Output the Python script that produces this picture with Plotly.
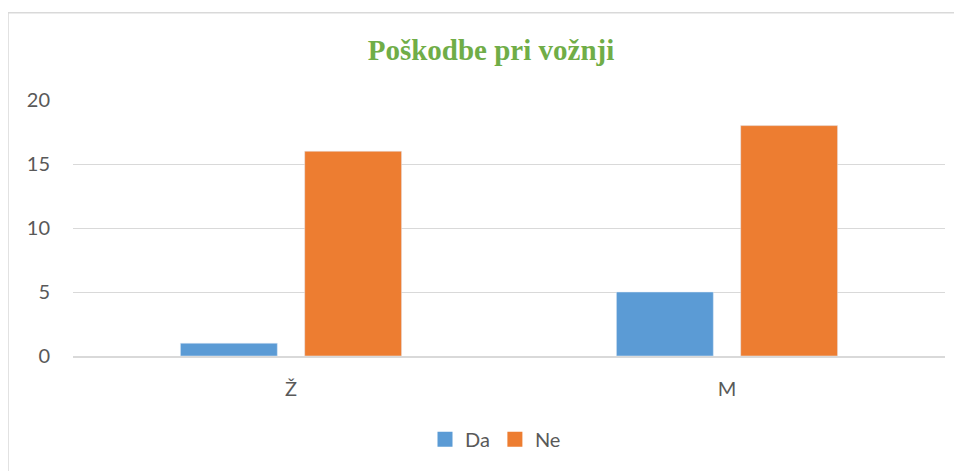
import plotly.graph_objects as go

# Data
categories = ['Ž', 'M']
da_values = [1, 5]
ne_values = [16, 18]
y_ticks = [0, 5, 10, 15, 20]
series_colors = {'Da': '#5B9BD5', 'Ne': '#ED7D31'}

fig = go.Figure()

fig.add_trace(go.Bar(x=categories, y=da_values, name='Da',
                     marker_color=series_colors['Da'], showlegend=False))
fig.add_trace(go.Bar(x=categories, y=ne_values, name='Ne',
                     marker_color=series_colors['Ne'], showlegend=False))

# legend entries with square markers (bigger than the default bar swatch)
for name, color in series_colors.items():
    fig.add_trace(go.Scatter(
        x=[None], y=[None], mode='markers', name=name,
        marker=dict(symbol='square', size=15, color=color),
    ))

fig.update_layout(
    width=954,
    height=463,
    barmode='group',
    bargap=0.43,
    bargroupgap=0.22,
    plot_bgcolor='white',
    paper_bgcolor='white',
    margin=dict(l=65, r=17, t=92, b=108),
    font=dict(family='Lato, Open Sans, sans-serif', size=20, color='#595959'),
    title=dict(
        text='<b>Poškodbe pri vožnji</b>',
        font=dict(family='Liberation Serif, Times New Roman, serif', size=29, color='#70AD47'),
        x=(491 - 8) / 954, xanchor='center',
        y=1 - (50 - 8) / 463, yanchor='middle',
    ),
    legend=dict(
        orientation='h',
        x=(425 - 73) / 872, xanchor='left',
        y=-0.325, yanchor='middle',
        font=dict(size=20, color='#595959'),
        itemwidth=30,
    ),
    # chart border
    shapes=[dict(
        type='rect', xref='paper', yref='paper',
        x0=(8 - 73) / 872, x1=1.1,
        y0=-0.6, y1=(355 - 13) / 255,
        line=dict(color='#D9D9D9', width=1.5),
        layer='below',
    )],
)

fig.update_yaxes(
    range=[0, 20],
    tickvals=y_ticks,
    showgrid=True,
    gridcolor='#D9D9D9',
    gridwidth=1,
    zeroline=False,
    showline=False,
    ticklabelstandoff=22,
)

fig.update_xaxes(
    showline=True,
    linecolor='#D9D9D9',
    linewidth=1.5,
    ticklabelstandoff=14,
)

fig.write_html("out.html")
